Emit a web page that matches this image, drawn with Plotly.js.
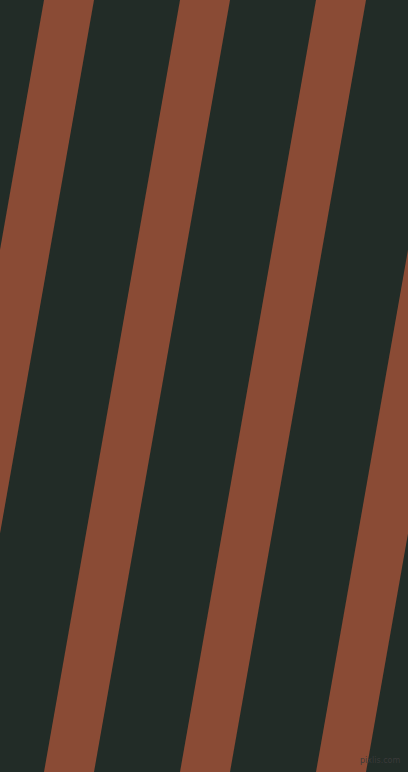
<!DOCTYPE html>
<html>
<head>
<meta charset="utf-8">
<script src="https://cdn.plot.ly/plotly-3.0.1.min.js"></script>
<style>
  html, body { margin: 0; padding: 0; background: #222c27; }
  #chart { width: 408px; height: 772px; }
</style>
</head>
<body>
<div id="chart"></div>
<script>
// where each brown stripe's left edge meets the top of the picture (px)
let stripeStarts = [-92, 44, 180, 316, 452];
// horizontal width of a stripe and how far it drifts left from top to bottom
let stripeWidth = [50];
let stripeDrift = [136];
let rowTop = [0];
let rowBottom = [772];

let bgColor = '#222c27';
let stripeColor = '#8a4b35';

let traces = stripeStarts.map(function (x0) {
    let w = stripeWidth[0];
    let d = stripeDrift[0];
    return {
        type: 'scatter',
        mode: 'lines',
        x: [x0, x0 + w, x0 + w - d, x0 - d, x0],
        y: [rowTop[0], rowTop[0], rowBottom[0], rowBottom[0], rowTop[0]],
        fill: 'toself',
        fillcolor: stripeColor,
        line: {width: 0, color: stripeColor},
        hoverinfo: 'skip',
        showlegend: false
    };
});

let layout = {
    width: 408,
    height: 772,
    margin: {l: 0, r: 0, t: 0, b: 0},
    paper_bgcolor: bgColor,
    plot_bgcolor: bgColor,
    xaxis: {range: [0, 408], visible: false, fixedrange: true},
    yaxis: {range: [772, 0], visible: false, fixedrange: true},
    annotations: [{
        text: 'pixlis.com',
        x: 1, y: 0, xref: 'paper', yref: 'paper',
        xanchor: 'right', yanchor: 'bottom',
        xshift: -6, yshift: 5,
        showarrow: false,
        font: {family: 'DejaVu Sans', size: 8, color: '#3a3a3a'}
    }]
};

Plotly.newPlot('chart', traces, layout, {displayModeBar: false, staticPlot: true});
</script>
</body>
</html>
